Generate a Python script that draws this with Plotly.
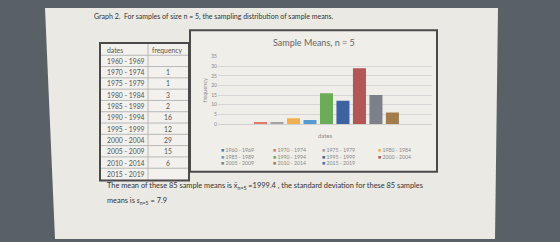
import plotly.graph_objects as go

# ---- data ----
dates = ["1960 - 1969", "1970 - 1974", "1975 - 1979", "1980 - 1984", "1985 - 1989",
         "1990 - 1994", "1995 - 1999", "2000 - 2004", "2005 - 2009", "2010 - 2014", "2015 - 2019"]
frequency = [None, 1, 1, 3, 2, 16, 12, 29, 15, 6, None]
colors = ["#4a78c0", "#e07a68", "#a3a3a3", "#f0b052", "#5a9ad2", "#6cab58",
          "#3c62a0", "#b25656", "#7c8088", "#a27c4a", "#3a70b8"]
y_ticks = [0, 5, 10, 15, 20, 25, 30, 35]
table_header = ["dates", "frequency"]

W, H = 560, 242
def px(x):
    return x / W
def py(y):
    return 1 - y / H

fig = go.Figure()

# bars (one series per date range, as in the original Excel chart)
for d, f, c in zip(dates, frequency, colors):
    fig.add_trace(go.Bar(x=[d], y=[f], name=d, marker=dict(color=c, line=dict(width=0)),
                         width=0.79, showlegend=False))

shapes = []
annotations = []
# page
shapes.append(dict(type="path", xref="paper", yref="paper",
                   path=f"M {px(45)},{py(5)} L {px(498)},{py(5)} L {px(495)},{py(242)} L {px(55)},{py(242)} Z",
                   fillcolor="#eae9e4", line=dict(width=0), layer="below"))
# chart box
shapes.append(dict(type="rect", xref="paper", yref="paper",
                   x0=px(190), x1=px(437), y0=py(173), y1=py(28),
                   fillcolor="#efeee9", line=dict(color="#4a4a4a", width=2), layer="below"))

# ---- table built from the lists ----
t_left, t_right, t_div, t_top, t_bot = 101, 188, 148, 42, 181
rows = [table_header] + [[d, "" if f is None else str(f)] for d, f in zip(dates, frequency)]
rh = (t_bot - t_top) / len(rows)
shapes.append(dict(type="rect", xref="paper", yref="paper",
                   x0=px(t_left), x1=px(t_right), y0=py(t_bot), y1=py(t_top),
                   fillcolor="#f2f1ed", line=dict(width=0), layer="below"))
for i in range(1, len(rows)):
    yy = t_top + i * rh
    shapes.append(dict(type="line", xref="paper", yref="paper",
                       x0=px(t_left), x1=px(t_right), y0=py(yy), y1=py(yy),
                       line=dict(color="#b8b8b8", width=1)))
shapes.append(dict(type="line", xref="paper", yref="paper",
                   x0=px(t_div), x1=px(t_div), y0=py(t_bot), y1=py(t_top),
                   line=dict(color="#b8b8b8", width=1)))
shapes.append(dict(type="rect", xref="paper", yref="paper",
                   x0=px(t_left - 1), x1=px(t_right + 1), y0=py(t_bot + 1), y1=py(t_top - 1),
                   line=dict(color="#4a4a4a", width=2)))
tfont = dict(family="Lato", size=6.8, color="#555")
for i, (a, b) in enumerate(rows):
    yc = t_top + (i + 0.5) * rh
    annotations.append(dict(text=a, x=px(t_left + 4), y=py(yc), xref="paper", yref="paper",
                            xanchor="left", yanchor="middle", showarrow=False, font=tfont))
    if i == 0:
        annotations.append(dict(text=b, x=px(t_div + 1.5), y=py(yc), xref="paper", yref="paper",
                                xanchor="left", yanchor="middle", showarrow=False, font=tfont))
    elif b:
        annotations.append(dict(text=b, x=px(167.5), y=py(yc), xref="paper", yref="paper",
                                xanchor="center", yanchor="middle", showarrow=False, font=tfont))

annotations.append(dict(text="Graph 2.  For samples of size n = 5, the sampling distribution of sample means.",
                        x=px(92), y=py(14), xref="paper", yref="paper", xanchor="left", yanchor="middle",
                        showarrow=False, font=dict(family="Lato", size=7.0, color="#333")))
annotations.append(dict(text="Sample Means, n = 5", x=px(314), y=py(40), xref="paper", yref="paper",
                        xanchor="center", yanchor="middle", showarrow=False,
                        font=dict(family="Lato", size=9, color="#666")))
annotations.append(dict(text="The mean of these 85 sample means is x\u0304<sub>n=5</sub> =1999.4 , the standard deviation for these 85 samples",
                        x=px(105), y=py(188), xref="paper", yref="paper", xanchor="left", yanchor="middle",
                        showarrow=False, font=dict(family="Lato", size=7.4, color="#333")))
annotations.append(dict(text="means is <i>s</i><sub>n=5</sub> = 7.9",
                        x=px(105), y=py(203), xref="paper", yref="paper", xanchor="left", yanchor="middle",
                        showarrow=False, font=dict(family="Lato", size=7.4, color="#333")))

# legend (built from the series lists)
col_x = [219, 271, 320, 376]
row_y = [150.5, 157.5, 164.5]
for i, (d, c) in enumerate(zip(dates, colors)):
    r, k = divmod(i, 4)
    annotations.append(dict(text=f"<span style='color:{c}'>■</span> {d}",
                            x=px(col_x[k]), y=py(row_y[r]), xref="paper", yref="paper",
                            xanchor="left", yanchor="middle", showarrow=False,
                            font=dict(family="Lato", size=5.2, color="#888")))

fig.update_layout(
    width=W, height=H, margin=dict(l=0, r=0, t=0, b=0),
    paper_bgcolor="#596167", plot_bgcolor="rgba(0,0,0,0)",
    barmode="overlay", showlegend=False,
    shapes=shapes, annotations=annotations,
    xaxis=dict(domain=[px(218), px(432)], type="category", categoryorder="array", categoryarray=dates,
               range=[-1.58, 11.4], showticklabels=False, showgrid=False, zeroline=False,
               showline=True, linecolor="#d0d0d0", linewidth=1, ticks="",
               title=dict(text="dates", font=dict(family="Lato", size=6, color="#888"), standoff=9)),
    yaxis=dict(domain=[py(124), py(55)], range=[0, 35], tickvals=y_ticks, showgrid=True,
               gridcolor="#d6d6d6", gridwidth=1, zeroline=False, showline=False,
               tickfont=dict(family="Lato", size=5, color="#888"), ticklen=0, ticks="",
               title=dict(text="frequency", font=dict(family="Lato", size=5.5, color="#888"), standoff=3)),
)

fig.write_html("out.html")
